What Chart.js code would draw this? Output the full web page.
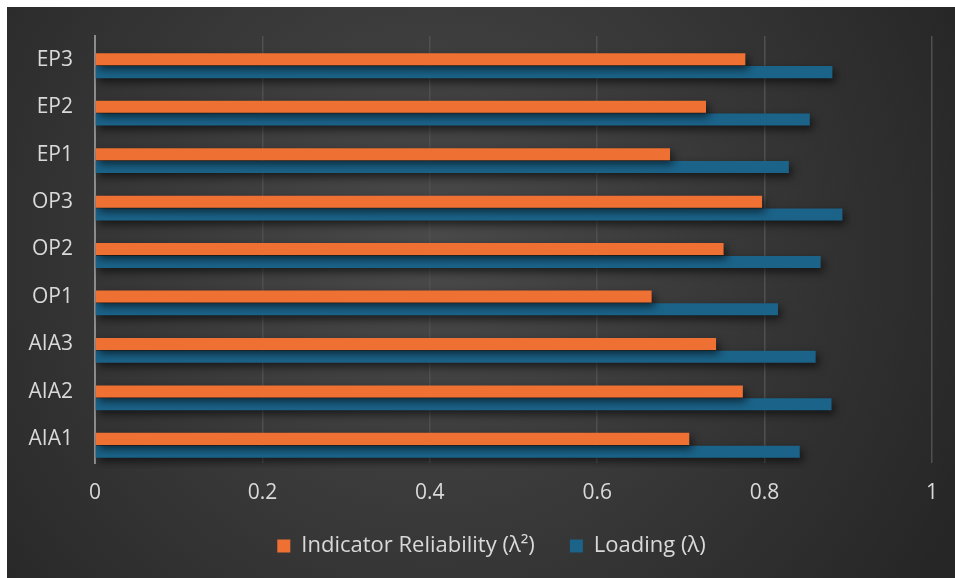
<!DOCTYPE html>
<html>
<head>
<meta charset="utf-8">
<script src="https://cdn.jsdelivr.net/npm/chart.js@4/dist/chart.umd.min.js"></script>
<style>
  html, body { margin: 0; padding: 0; background: #ffffff; }
  #wrap { position: absolute; left: 7px; top: 7px; width: 948px; height: 571px; }
</style>
</head>
<body>
<div id="wrap"><canvas id="chart" width="948" height="571"></canvas></div>
<script>
// indicadores, de arriba hacia abajo como en la figura
const indicators = ['EP3', 'EP2', 'EP1', 'OP3', 'OP2', 'OP1', 'AIA3', 'AIA2', 'AIA1'];
const reliability = [0.777, 0.730, 0.687, 0.797, 0.751, 0.665, 0.742, 0.774, 0.710];
const loading = [0.881, 0.854, 0.829, 0.893, 0.867, 0.816, 0.861, 0.880, 0.842];
const xTicks = [0, 0.2, 0.4, 0.6, 0.8, 1];

const textColor = '#d9d9d9';
const fontFamily = '"Open Sans", "Noto Sans", sans-serif';

// fondo oscuro con degradado radial
const backgroundPlugin = {
  id: 'darkBackground',
  beforeDraw(chart) {
    const { ctx, width, height } = chart;
    const g = ctx.createRadialGradient(width * 0.45, height * 0.42, 0, width * 0.45, height * 0.42, width * 0.62);
    g.addColorStop(0, '#4a4a4a');
    g.addColorStop(1, '#262626');
    ctx.save();
    ctx.fillStyle = g;
    ctx.fillRect(0, 0, width, height);
    ctx.restore();
  }
};

// sombra de las barras (y el pequeño desplazamiento que hace Excel)
const shadowPlugin = {
  id: 'barShadow',
  beforeDatasetsDraw(chart) {
    const ctx = chart.ctx;
    ctx.save();
    ctx.translate(0, 6);
    ctx.shadowColor = 'rgba(0, 0, 0, 0.6)';
    ctx.shadowBlur = 8;
    ctx.shadowOffsetX = 3;
    ctx.shadowOffsetY = 4;
  },
  afterDatasetsDraw(chart) {
    chart.ctx.restore();
  }
};

// la leyenda de Excel queda algo corrida a la derecha
const legendShift = {
  id: 'legendShift',
  afterLayout(chart) {
    const lg = chart.legend;
    lg.left += 22;
    lg.right += 22;
  }
};

new Chart(document.getElementById('chart'), {
  type: 'bar',
  data: {
    labels: indicators,
    datasets: [{
      label: 'Indicator Reliability (λ²)',
      data: reliability,
      backgroundColor: '#ee7133',
      borderWidth: 0,
      categoryPercentage: 0.54,
      barPercentage: 0.94
    }, {
      label: 'Loading (λ)',
      data: loading,
      backgroundColor: '#1b6389',
      borderWidth: 0,
      categoryPercentage: 0.54,
      barPercentage: 0.94
    }]
  },
  options: {
    indexAxis: 'y',
    responsive: false,
    animation: false,
    layout: { padding: { top: 29, left: 0, right: 23, bottom: 11 } },
    scales: {
      x: {
        min: 0,
        max: 1,
        afterBuildTicks: scale => { scale.ticks = xTicks.map(v => ({ value: v })); },
        ticks: {
          color: textColor,
          font: { family: fontFamily, size: 21 },
          padding: 17,
          callback: v => String(v)
        },
        grid: { color: '#505050', lineWidth: 1.5, drawTicks: false },
        border: { display: false },
        afterFit: scale => { scale.height = 37; }
      },
      y: {
        ticks: {
          color: textColor,
          font: { family: fontFamily, size: 21 },
          padding: 22
        },
        grid: { display: false, drawTicks: false },
        border: { display: true, color: '#8c8c8c', width: 2 },
        afterFit: scale => {
          scale.width = 88;
          scale.paddingTop = 0;
          scale.paddingBottom = 0;
        }
      }
    },
    plugins: {
      legend: {
        position: 'bottom',
        labels: {
          color: textColor,
          font: { family: fontFamily, size: 22 },
          boxWidth: 13,
          boxHeight: 13,
          padding: 35
        }
      },
      tooltip: { enabled: false }
    }
  },
  plugins: [backgroundPlugin, shadowPlugin, legendShift]
});
</script>
</body>
</html>
